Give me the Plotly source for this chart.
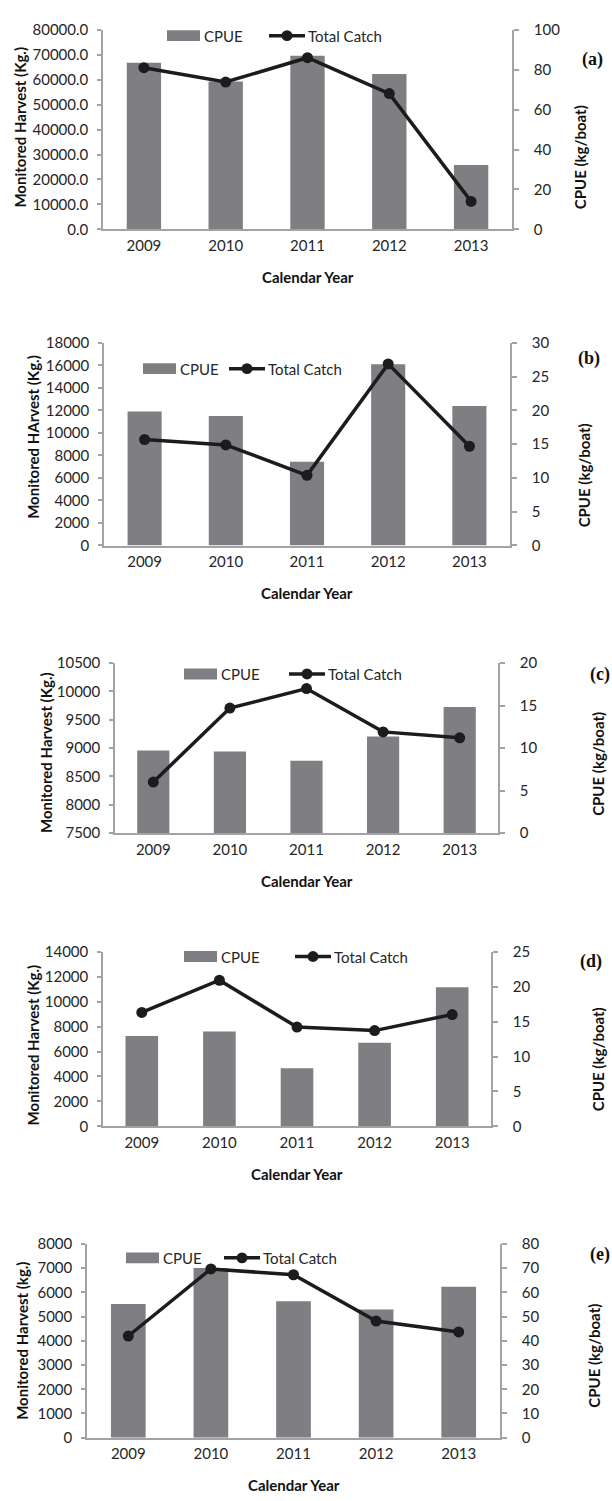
import plotly.graph_objects as go

W, H = 612, 1501

# Calendar years shared by every panel
years = ["2009", "2010", "2011", "2012", "2013"]

# Panel (a)
cpue_a = [66800, 59300, 69600, 62300, 25800]
catch_a = [81.0, 73.8, 86.0, 68.0, 14.0]
# Panel (b)
cpue_b = [11900, 11500, 7450, 16100, 12400]
catch_b = [15.7, 14.9, 10.4, 26.9, 14.7]
# Panel (c)
cpue_c = [8955, 8940, 8775, 9205, 9725]
catch_c = [6.0, 14.7, 17.0, 11.9, 11.2]
# Panel (d)
cpue_d = [7250, 7600, 4650, 6700, 11150]
catch_d = [16.3, 20.9, 14.2, 13.7, 16.0]
# Panel (e)
cpue_e = [5520, 7010, 5640, 5290, 6230]
catch_e = [42.0, 69.7, 67.3, 48.2, 43.7]

tags = ["(a)", "(b)", "(c)", "(d)", "(e)"]
left_titles = ["Monitored Harvest (Kg.)", "Monitored HArvest (Kg.)",
               "Monitored Harvest (Kg.)", "Monitored Harvest (Kg.)",
               "Monitored Harvest (kg.)"]
right_title = "CPUE (kg/boat)"
x_title = "Calendar Year"
legend_names = ["CPUE", "Total Catch"]

left_ranges = [[0, 80000], [0, 18000], [7500, 10500], [0, 14000], [0, 8000]]
left_dticks = [10000, 2000, 500, 2000, 1000]
left_formats = [".1f", "d", "d", "d", "d"]
right_ranges = [[0, 100], [0, 30], [0, 20], [0, 25], [0, 80]]
right_dticks = [20, 5, 5, 5, 10]

cpue_sets = [cpue_a, cpue_b, cpue_c, cpue_d, cpue_e]
catch_sets = [catch_a, catch_b, catch_c, catch_d, catch_e]

# ---- layout geometry (pixels) ----
# plot boxes: left, right, top, bottom
boxes = [(103, 512, 20, 222), (104, 510, 337, 542), (115, 498, 661, 833),
         (103, 491, 953, 1130), (87, 500, 1249, 1445)]
# axis-title placements
left_title_pos = [(20, 119), (33, 432), (46, 752), (33, 1048), (22, 1347)]
right_title_pos = [(580, 149), (584, 471), (598, 763), (598, 1062), (594, 1362)]
x_title_y = [270, 590, 882, 1178, 1493]
tag_pos = [(592, 50), (589, 353), (600, 673), (591, 963), (600, 1260)]
# legend key placements: swatch left, line-sample left, row centre
legend_pos = [(167, 269, 26), (143, 229, 363), (184, 289, 672),
              (184, 295, 958), (126, 224, 1263)]

BAR = "#7f7f83"
LINE = "#1c1c1c"
AXIS = "#a3a3a3"
FONT = "Lato"
TICK_FONT = dict(family=FONT, size=15, color="#262626")
TITLE_FONT = dict(family=FONT, size=15, color="#111111")


def fx(px):
    return px / W


def fy(py):
    return 1 - py / H


fig = go.Figure()
layout = {}
annotations = []
shapes = []

for i in range(5):
    xid = "x" if i == 0 else f"x{i + 1}"
    ly = 2 * i + 1
    ry = 2 * i + 2
    lid = "y" if ly == 1 else f"y{ly}"
    rid = f"y{ry}"
    L, R, T, B = boxes[i]

    fig.add_trace(go.Bar(
        x=years, y=cpue_sets[i], width=0.42, marker=dict(color=BAR, line=dict(width=0)),
        name=legend_names[0], showlegend=False, xaxis=xid, yaxis=lid,
    ))
    fig.add_trace(go.Scatter(
        x=years, y=catch_sets[i], mode="lines+markers",
        line=dict(color=LINE, width=3.5), marker=dict(color=LINE, size=11),
        name=legend_names[1], showlegend=False, xaxis=xid, yaxis=rid, cliponaxis=False,
    ))

    layout["xaxis" if i == 0 else f"xaxis{i + 1}"] = dict(
        domain=[fx(L), fx(R)], anchor=lid, type="category",
        showline=True, linecolor=AXIS, linewidth=1.5, ticks="",
        showgrid=False, zeroline=False, tickfont=TICK_FONT, ticklabelstandoff=2,
        fixedrange=True,
    )
    layout["yaxis" if ly == 1 else f"yaxis{ly}"] = dict(
        domain=[fy(B), fy(T)], anchor=xid, range=left_ranges[i], dtick=left_dticks[i],
        tick0=left_ranges[i][0], tickformat=left_formats[i],
        showline=True, linecolor=AXIS, linewidth=1.5, ticks="outside", ticklen=4,
        tickcolor=AXIS, tickwidth=1.5, showgrid=False, zeroline=False,
        tickfont=TICK_FONT, ticklabelstandoff=6, fixedrange=True,
    )
    layout[f"yaxis{ry}"] = dict(
        overlaying=lid, side="right", anchor=xid, range=right_ranges[i],
        dtick=right_dticks[i], tick0=0,
        showline=True, linecolor=AXIS, linewidth=1.5, ticks="outside", ticklen=5,
        tickcolor=AXIS, tickwidth=1.5, showgrid=False, zeroline=False,
        tickfont=TICK_FONT, ticklabelstandoff=12, fixedrange=True,
    )

    # axis titles
    lx, lyc = left_title_pos[i]
    annotations.append(dict(
        text=f"<b>{left_titles[i]}</b>", x=fx(lx), y=fy(lyc), xref="paper", yref="paper",
        textangle=-90, showarrow=False, xanchor="center", yanchor="middle", font=TITLE_FONT,
    ))
    rx, ryc = right_title_pos[i]
    annotations.append(dict(
        text=f"<b>{right_title}</b>", x=fx(rx), y=fy(ryc), xref="paper", yref="paper",
        textangle=-90, showarrow=False, xanchor="center", yanchor="middle", font=TITLE_FONT,
    ))
    annotations.append(dict(
        text=f"<b>{x_title}</b>", x=fx((L + R) / 2), y=fy(x_title_y[i]), xref="paper",
        yref="paper", showarrow=False, xanchor="center", yanchor="middle", font=TITLE_FONT,
    ))
    tx, tyc = tag_pos[i]
    annotations.append(dict(
        text=f"<b>{tags[i]}</b>", x=fx(tx), y=fy(tyc), xref="paper", yref="paper",
        showarrow=False, xanchor="center", yanchor="middle",
        font=dict(family="Liberation Serif", size=18, color="#111111"),
    ))

    # legend key
    sx, lx0, cy = legend_pos[i]
    shapes.append(dict(type="rect", xref="paper", yref="paper",
                       x0=fx(sx), x1=fx(sx + 33), y0=fy(cy + 5.5), y1=fy(cy - 5.5),
                       fillcolor=BAR, line=dict(width=0)))
    annotations.append(dict(
        text=legend_names[0], x=fx(sx + 35), y=fy(cy), xref="paper", yref="paper",
        showarrow=False, xanchor="left", yanchor="middle",
        font=dict(family=FONT, size=15, color="#262626"),
    ))
    shapes.append(dict(type="line", xref="paper", yref="paper",
                       x0=fx(lx0), x1=fx(lx0 + 36), y0=fy(cy), y1=fy(cy),
                       line=dict(color=LINE, width=3.5)))
    shapes.append(dict(type="circle", xref="paper", yref="paper",
                       x0=fx(lx0 + 18 - 5.5), x1=fx(lx0 + 18 + 5.5),
                       y0=fy(cy + 5.5), y1=fy(cy - 5.5),
                       fillcolor=LINE, line=dict(width=0)))
    annotations.append(dict(
        text=legend_names[1], x=fx(lx0 + 37), y=fy(cy), xref="paper", yref="paper",
        showarrow=False, xanchor="left", yanchor="middle",
        font=dict(family=FONT, size=15, color="#262626"),
    ))

fig.update_layout(
    width=W, height=H, margin=dict(l=0, r=0, t=0, b=0),
    paper_bgcolor="white", plot_bgcolor="white",
    font=dict(family=FONT, size=15, color="#262626"),
    showlegend=False, annotations=annotations, shapes=shapes, **layout,
)

fig.write_html("out.html")
